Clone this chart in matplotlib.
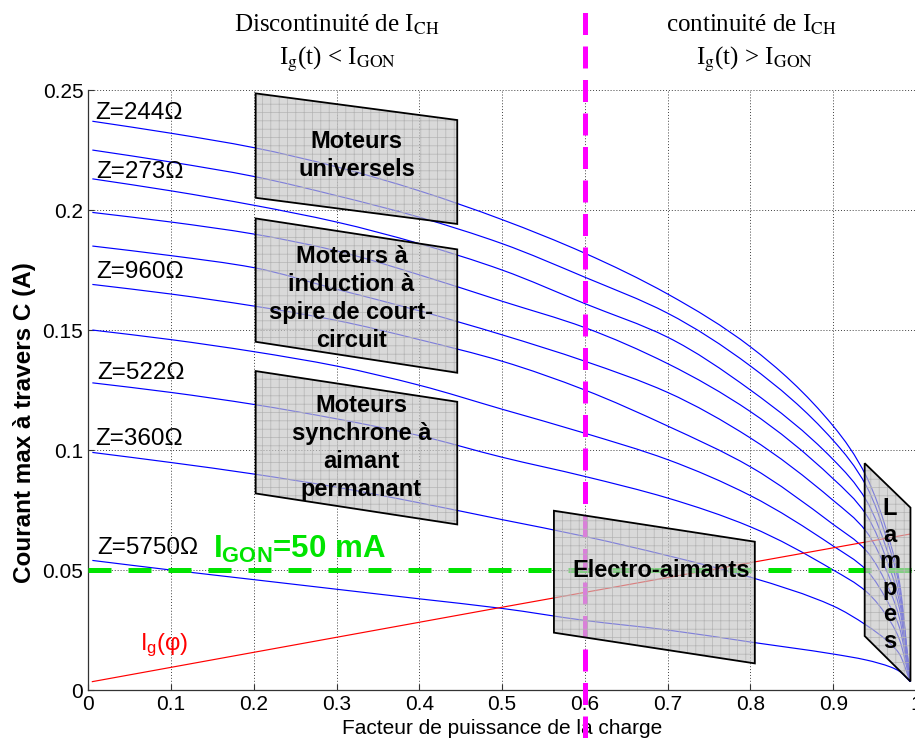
import matplotlib
matplotlib.use('Agg')
import matplotlib.pyplot as plt
from matplotlib.patches import Polygon, PathPatch
from matplotlib.path import Path

plt.rcParams['font.family'] = ['Liberation Sans', 'DejaVu Sans']
plt.rcParams['mathtext.fontset'] = 'custom'
plt.rcParams['mathtext.rm'] = 'Liberation Sans'
plt.rcParams['mathtext.bf'] = 'Liberation Sans:bold'
plt.rcParams['mathtext.it'] = 'Liberation Sans:italic'
plt.rcParams['hatch.linewidth'] = 0.5

# ---------------- data ----------------
pf = [0.005, 0.1, 0.2, 0.3, 0.4, 0.5, 0.6, 0.7, 0.8, 0.9, 0.94, 0.97, 0.98, 0.993]
curve_1 = [0.237, 0.232, 0.226, 0.218, 0.208, 0.196, 0.182, 0.165, 0.143, 0.110, 0.089, 0.060, 0.045, 0.0035]
curve_2 = [0.225, 0.220, 0.214, 0.206, 0.197, 0.186, 0.172, 0.157, 0.135, 0.104, 0.085, 0.057, 0.043, 0.0035]
curve_3 = [0.213, 0.208, 0.202, 0.195, 0.186, 0.175, 0.161, 0.147, 0.125, 0.096, 0.079, 0.053, 0.040, 0.0035]
curve_4 = [0.199, 0.195, 0.190, 0.183, 0.173, 0.162, 0.151, 0.136, 0.116, 0.088, 0.073, 0.049, 0.037, 0.0035]
curve_5 = [0.185, 0.181, 0.176, 0.167, 0.158, 0.148, 0.137, 0.124, 0.105, 0.079, 0.066, 0.045, 0.034, 0.0035]
curve_6 = [0.169, 0.165, 0.160, 0.154, 0.146, 0.137, 0.125, 0.110, 0.093, 0.069, 0.058, 0.040, 0.030, 0.0035]
curve_7 = [0.150, 0.146, 0.141, 0.135, 0.127, 0.117, 0.107, 0.096, 0.081, 0.060, 0.050, 0.034, 0.026, 0.0035]
curve_8 = [0.128, 0.124, 0.119, 0.113, 0.106, 0.097, 0.089, 0.080, 0.068, 0.050, 0.041, 0.028, 0.021, 0.0035]
curve_9 = [0.099, 0.0948, 0.090, 0.0845, 0.078, 0.071, 0.064, 0.056, 0.047, 0.035, 0.027, 0.019, 0.015, 0.0035]
curve_10 = [0.054, 0.050, 0.046, 0.042, 0.038, 0.034, 0.029, 0.025, 0.020, 0.015, 0.0125, 0.0095, 0.0078, 0.0035]

pf_red = [0.005, 0.5, 0.993]
ig_red = [0.0035, 0.0345, 0.065]

igon = 0.05
pf_limit = 0.6

z_labels = ['Z=244Ω', 'Z=273Ω', 'Z=960Ω', 'Z=522Ω', 'Z=360Ω', 'Z=5750Ω']
z_label_x = [0.008, 0.010, 0.010, 0.011, 0.008, 0.011]
z_label_y = [0.2405, 0.216, 0.1743, 0.1322, 0.1045, 0.059]

x_ticks = [0, 0.1, 0.2, 0.3, 0.4, 0.5, 0.6, 0.7, 0.8, 0.9, 1]
x_ticklabels = ['0', '0.1', '0.2', '0.3', '0.4', '0.5', '0.6', '0.7', '0.8', '0.9', '1']
y_ticks = [0, 0.05, 0.1, 0.15, 0.2, 0.25]
y_ticklabels = ['0', '0.05', '0.1', '0.15', '0.2', '0.25']

box_names = ['Moteurs\nuniversels',
             'Moteurs à\ninduction à\nspire de court-\ncircuit',
             'Moteurs\nsynchrone à\naimant\npermanant',
             'Electro-aimants',
             'L\na\nm\np\ne\ns']
box_x = [[0.2023, 0.4458, 0.4458, 0.2023],
         [0.2023, 0.4458, 0.4458, 0.2023],
         [0.2023, 0.4458, 0.4458, 0.2023],
         [0.5626, 0.8053, 0.8053, 0.5626],
         [0.938, 0.9933, 0.9933, 0.938]]
box_y = [[0.2486, 0.2375, 0.1942, 0.2051],
         [0.1965, 0.1836, 0.1322, 0.1451],
         [0.1329, 0.1201, 0.0690, 0.0819],
         [0.0747, 0.0618, 0.0111, 0.0239],
         [0.0945, 0.0760, 0.0036, 0.0225]]
box_text_x = [0.3243, 0.318, 0.330, 0.6926, 0.968]
box_text_y = [0.2227, 0.1633, 0.101, 0.050, 0.0479]


def smooth_path(xs, ys):
    """Monotone cubic (PCHIP-style) Bezier path through the given points."""
    n = len(xs)
    h = [xs[i + 1] - xs[i] for i in range(n - 1)]
    d = [(ys[i + 1] - ys[i]) / h[i] for i in range(n - 1)]
    m = [0.0] * n
    m[0], m[-1] = d[0], d[-1]
    for i in range(1, n - 1):
        if d[i - 1] * d[i] <= 0:
            m[i] = 0.0
        else:
            w1 = 2 * h[i] + h[i - 1]
            w2 = h[i] + 2 * h[i - 1]
            m[i] = (w1 + w2) / (w1 / d[i - 1] + w2 / d[i])
    verts = [(xs[0], ys[0])]
    codes = [Path.MOVETO]
    for i in range(n - 1):
        verts += [(xs[i] + h[i] / 3, ys[i] + m[i] * h[i] / 3),
                  (xs[i + 1] - h[i] / 3, ys[i + 1] - m[i + 1] * h[i] / 3),
                  (xs[i + 1], ys[i + 1])]
        codes += [Path.CURVE4] * 3
    return Path(verts, codes)


# ---------------- figure ----------------
fig = plt.figure(figsize=(9.15, 7.38), dpi=100)
ax = fig.add_axes([0.0964, 0.065, 0.9047, 0.813])

for c in [curve_1, curve_2, curve_3, curve_4, curve_5, curve_6, curve_7, curve_8, curve_9, curve_10]:
    ax.add_patch(PathPatch(smooth_path(pf, c), fill=False, edgecolor='#0000ff', lw=0.85, zorder=3))

ax.plot(pf_red, ig_red, color='#ff0000', lw=0.85, zorder=3)

ax.plot([0, 1], [igon, igon], color='#00e400', lw=3.6, dashes=(4.6, 3.4), zorder=4,
        dash_capstyle='butt')
ax.plot([pf_limit, pf_limit], [-0.02, 0.284], color='#ff00ff', lw=3.6,
        dashes=(4.4, 2.3), zorder=4, clip_on=False, dash_capstyle='butt')

for bx, by, name, tx, ty in zip(box_x, box_y, box_names, box_text_x, box_text_y):
    pts = list(zip(bx, by))
    ax.add_patch(Polygon(pts, closed=True, facecolor='#c6c6c6', edgecolor='none',
                         alpha=0.65, zorder=5))
    ax.add_patch(Polygon(pts, closed=True, fill=False, hatch='++', edgecolor='#b4b4b4',
                         lw=0, zorder=5.5))
    ax.add_patch(Polygon(pts, closed=True, fill=False, edgecolor='black', lw=1.3, zorder=6))
    ls = 1.2 if name.startswith('L\n') else 1.28
    ax.text(tx, ty, name, ha='center', va='center', fontsize=17, fontweight='bold',
            linespacing=ls, zorder=7)

for lab, lx, ly in zip(z_labels, z_label_x, z_label_y):
    ax.text(lx, ly, lab, ha='left', va='center', fontsize=17.5, zorder=7)

ax.text(0.0626, 0.0187, r'I$_{\rm g}$(φ)', color='#ff0000', ha='left', va='center',
        fontsize=17, zorder=7)
ax.text(0.151, 0.0585, r'I$_{\mathbf{GON}}$=50 mA', color='#00e400', ha='left', va='center',
        fontsize=22.5, fontweight='bold', zorder=7)

# axes styling
ax.set_xlim(0, 1)
ax.set_ylim(0, 0.25)
ax.set_xticks(x_ticks)
ax.set_xticklabels(x_ticklabels)
ax.set_yticks(y_ticks)
ax.set_yticklabels(y_ticklabels)
ax.tick_params(direction='in', length=4, labelsize=15, pad=3.5, color='#333333')
ax.grid(True, linestyle=(0, (1, 2)), color='#404040', lw=0.7, zorder=1)
ax.set_axisbelow(True)
for s in ['top', 'right']:
    ax.spines[s].set_visible(False)
for s in ['left', 'bottom']:
    ax.spines[s].set_color('#333333')
    ax.spines[s].set_linewidth(0.9)

ax.set_xlabel('Facteur de puissance de la charge', fontsize=15, labelpad=4)
ax.set_ylabel('Courant max à travers C (A)', fontsize=17.5, fontweight='bold')
ax.yaxis.set_label_coords(-0.063, 0.445)

serif = ['Liberation Serif', 'DejaVu Serif']
fig.text(0.368, 0.966, r'Discontinuité de I$_{\rm CH}$', ha='center', va='center',
         fontsize=18, family=serif, math_fontfamily='stix')
fig.text(0.369, 0.919, r'I$_{\rm g}$(t) < I$_{\rm GON}$', ha='center', va='center',
         fontsize=18, family=serif, math_fontfamily='stix')
fig.text(0.821, 0.966, r'continuité de I$_{\rm CH}$', ha='center', va='center',
         fontsize=18, family=serif, math_fontfamily='stix')
fig.text(0.825, 0.919, r'I$_{\rm g}$(t) > I$_{\rm GON}$', ha='center', va='center',
         fontsize=18, family=serif, math_fontfamily='stix')

fig.savefig('out.png', dpi=100)
